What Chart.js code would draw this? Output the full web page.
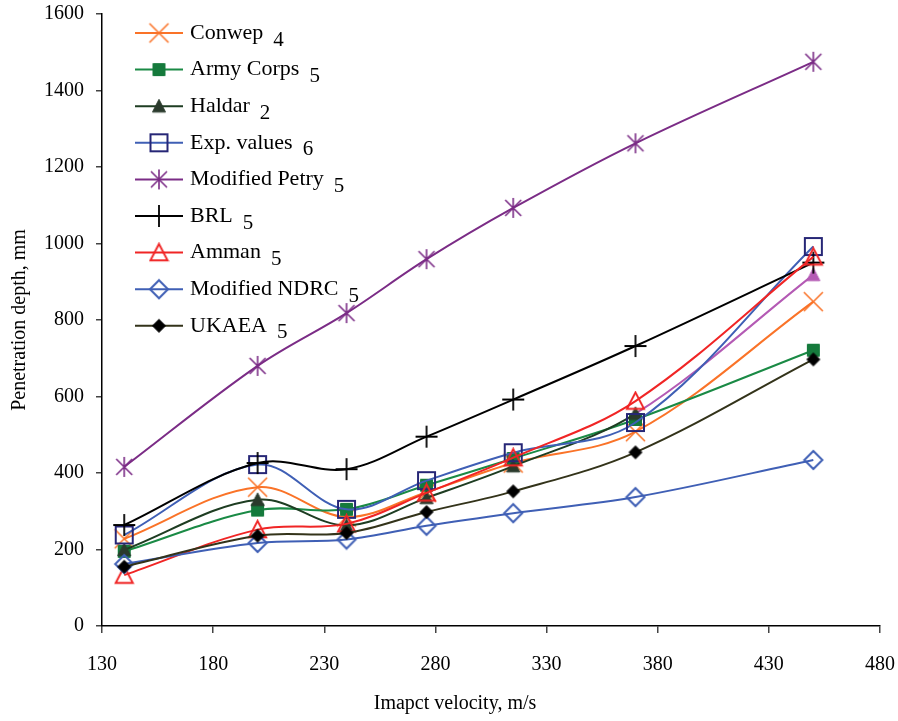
<!DOCTYPE html>
<html><head><meta charset="utf-8">
<script src="https://cdn.jsdelivr.net/npm/chart.js@4/dist/chart.umd.min.js"></script>
<style>html,body{margin:0;padding:0;background:#fff}#wrap{width:898px;height:721px;position:relative}</style>
</head><body><div id="wrap"><canvas id="c" width="898" height="721"></canvas></div>
<script>
// ---- data ----
const velocities = [140, 200, 240, 276, 315, 370, 450];
const conwep      = [228, 363, 285, 350, 426, 508, 848];
const armyCorps   = [195, 303, 305, 368, 438, 540, 721];
const haldar      = [199, 330, 263, 335, 418, 555, 918];
const expValues   = [238, 422, 305, 380, 453, 532, 992];
const modPetry    = [416, 680, 818, 959, 1093, 1262, 1475];
const brl         = [264, 426, 410, 495, 592, 732, 950];
const amman       = [133, 252, 267, 348, 440, 588, 965];
const modNDRC     = [162, 217, 226, 262, 295, 337, 434];
const ukaea       = [155, 236, 243, 298, 352, 454, 697];
const seriesNames = ['Conwep', 'Army Corps', 'Haldar', 'Exp. values', 'Modified Petry', 'BRL', 'Amman', 'Modified NDRC', 'UKAEA'];
const seriesRefs  = ['4', '5', '2', '6', '5', '5', '5', '5', '5'];
const xTickValues = [130, 180, 230, 280, 330, 380, 430, 480];
const yTickValues = [0, 200, 400, 600, 800, 1000, 1200, 1400, 1600];
const xTitle = 'Imapct velocity, m/s';
const yTitle = 'Penetration depth, mm';

// ---- marker images ----
function makeMarker(type, size, stroke, fill, lw) {
  const S = Math.ceil(size + lw + 2);
  const cv = document.createElement('canvas');
  cv.width = S; cv.height = S;
  const g = cv.getContext('2d');
  const c = S / 2, h = size / 2;
  g.lineWidth = lw; g.strokeStyle = stroke; g.fillStyle = fill || 'transparent';
  g.beginPath();
  if (type === 'x') {
    g.moveTo(c - h, c - h); g.lineTo(c + h, c + h);
    g.moveTo(c + h, c - h); g.lineTo(c - h, c + h);
    g.stroke();
  } else if (type === 'star') {
    g.moveTo(c, c - h); g.lineTo(c, c + h);
    const d = h * 0.8;
    g.moveTo(c - d, c - d); g.lineTo(c + d, c + d);
    g.moveTo(c + d, c - d); g.lineTo(c - d, c + d);
    g.stroke();
  } else if (type === 'plus') {
    g.moveTo(c, c - h); g.lineTo(c, c + h);
    g.moveTo(c - h, c); g.lineTo(c + h, c);
    g.stroke();
  } else if (type === 'square') {
    g.rect(c - h, c - h, size, size);
    if (fill) g.fill();
    g.stroke();
  } else if (type === 'triangle') {
    const th = size * 0.9;
    g.moveTo(c, c - th / 2 - 1); g.lineTo(c + h, c + th / 2); g.lineTo(c - h, c + th / 2); g.closePath();
    if (fill) g.fill();
    g.stroke();
  } else if (type === 'diamond') {
    g.moveTo(c, c - h); g.lineTo(c + h, c); g.lineTo(c, c + h); g.lineTo(c - h, c); g.closePath();
    if (fill) g.fill();
    g.stroke();
  }
  return cv;
}

const styles = [
  {line: '#FA7328', marker: makeMarker('x', 19, '#FA7328', null, 1.6)},
  {line: '#1A8A45', marker: makeMarker('square', 12, '#157A3C', '#157A3C', 1)},
  {line: '#1E3D22', marker: makeMarker('triangle', 13, '#2A3A2C', '#2A3A2C', 1)},
  {line: '#3F5FB5', marker: makeMarker('square', 17, '#262676', null, 2)},
  {line: '#7B2C86', marker: makeMarker('star', 20, '#7B2C86', null, 1.6)},
  {line: '#000000', marker: makeMarker('plus', 22, '#000000', null, 1.8)},
  {line: '#F02525', marker: makeMarker('triangle', 17, '#F02525', null, 2)},
  {line: '#3F5FB5', marker: makeMarker('diamond', 18, '#3F5FB5', null, 2)},
  {line: '#33331A', marker: makeMarker('diamond', 13, '#000000', '#000000', 1)}
];
const haldarLast = makeMarker('triangle', 13, '#B45AB4', '#B45AB4', 1);
const haldarLastLine = '#B45AB4';

const seriesValues = [conwep, armyCorps, haldar, expValues, modPetry, brl, amman, modNDRC, ukaea];

const datasets = seriesValues.map((vals, i) => {
  const ds = {
    label: seriesNames[i],
    data: velocities.map((v, k) => ({x: v, y: vals[k]})),
    borderColor: styles[i].line,
    borderWidth: 2,
    tension: 0.35,
    pointStyle: styles[i].marker,
    pointRadius: 10,
    pointHoverRadius: 10,
    fill: false,
    order: -i
  };
  if (i === 2) {
    ds.pointStyle = velocities.map((v, k) => k === velocities.length - 1 ? haldarLast : styles[i].marker);
    ds.segment = {borderColor: ctx => ctx.p1DataIndex === velocities.length - 1 ? haldarLastLine : styles[i].line};
  }
  return ds;
});

const FONT = "'Liberation Serif', 'Times New Roman', serif";

const customText = {
  id: 'customText',
  afterDraw(chart) {
    const ctx = chart.ctx;
    ctx.save();
    ctx.fillStyle = '#000';
    // axis titles
    ctx.font = '20px ' + FONT;
    ctx.textAlign = 'center';
    ctx.textBaseline = 'middle';
    ctx.fillText(xTitle, 455, 704);
    ctx.save();
    ctx.translate(20, 320);
    ctx.rotate(-Math.PI / 2);
    ctx.fillText(yTitle, 0, 0);
    ctx.restore();
    // legend
    const rowY0 = 33, rowStep = 36.6;
    for (let i = 0; i < seriesNames.length; i++) {
      const y = rowY0 + i * rowStep;
      ctx.strokeStyle = styles[i].line;
      ctx.lineWidth = 2;
      ctx.beginPath(); ctx.moveTo(135, y); ctx.lineTo(183, y); ctx.stroke();
      const m = styles[i].marker;
      ctx.drawImage(m, 159 - m.width / 2, y - m.height / 2);
      ctx.fillStyle = '#000';
      ctx.textAlign = 'left';
      ctx.textBaseline = 'middle';
      ctx.font = '22px ' + FONT;
      ctx.fillText(seriesNames[i], 190, y);
      const w = ctx.measureText(seriesNames[i]).width;
      ctx.font = '21px ' + FONT;
      ctx.fillText(seriesRefs[i], 190 + w + 10, y + 7);
    }
    ctx.restore();
  }
};

new Chart(document.getElementById('c'), {
  type: 'line',
  data: {datasets},
  options: {
    responsive: false,
    animation: false,
    devicePixelRatio: 1,
    layout: {padding: {top: 14, right: 18, left: 0, bottom: 0}},
    plugins: {legend: {display: false}, tooltip: {enabled: false}, title: {display: false}},
    scales: {
      x: {
        type: 'linear', min: 130, max: 480,
        afterBuildTicks: s => { s.ticks = xTickValues.map(v => ({value: v})); },
        afterFit: s => { s.height = 95; s.paddingLeft = 0; s.paddingRight = 0; },
        grid: {drawOnChartArea: false, tickLength: 7, color: '#444', lineWidth: 1.5},
        border: {color: '#000', width: 1.5},
        ticks: {font: {family: FONT, size: 20}, color: '#000', padding: 20, maxRotation: 0, autoSkip: false,
                callback: v => String(v)}
      },
      y: {
        type: 'linear', min: 0, max: 1600,
        afterBuildTicks: s => { s.ticks = yTickValues.map(v => ({value: v})); },
        afterFit: s => { s.width = 102; s.paddingTop = 0; s.paddingBottom = 0; },
        grid: {drawOnChartArea: false, tickLength: 6, color: '#444', lineWidth: 1.5},
        border: {color: '#000', width: 1.5},
        ticks: {font: {family: FONT, size: 20}, color: '#000', padding: 12, autoSkip: false,
                callback: v => String(v)}
      }
    }
  },
  plugins: [customText]
});
</script>
</body></html>
